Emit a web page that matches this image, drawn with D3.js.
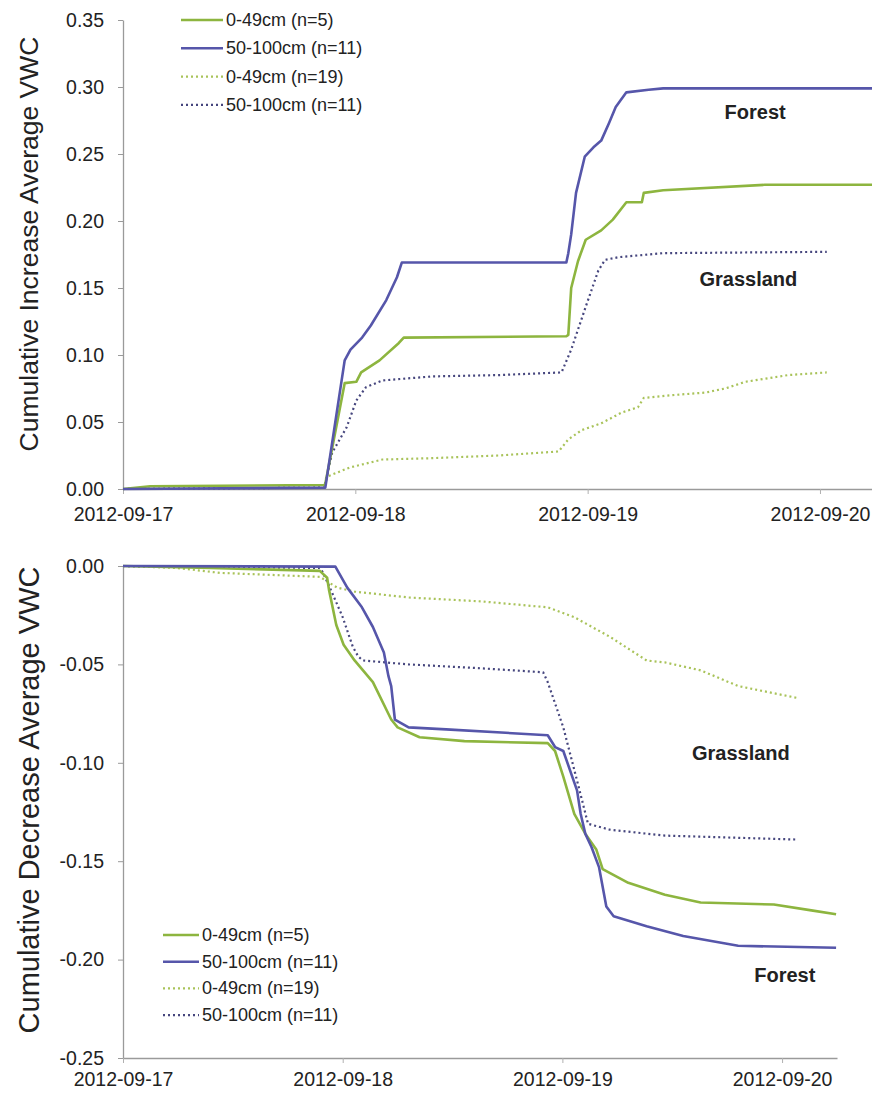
<html lang="en">
  <head>
    <meta charset="utf-8">
    <script src="https://d3js.org/d3.v7.min.js"></script>
    <style type="text/css">
body {
  margin: 0;
  background: white;
  font-family: "Liberation Sans", Arial, sans-serif;
}
svg text { fill: #222; }
    </style>
  </head>
  <body>
    <div id="chart"></div>
    <script type="text/javascript">
// hours since 2012-09-17 00:00
const incForestShallow = [[0, 0], [2.8, 0.002], [20.8, 0.003], [20.9, 0.004], [22.9, 0.079], [24.1, 0.080],
  [24.6, 0.087], [26.5, 0.096], [28.5, 0.109], [29.0, 0.113], [45.8, 0.114], [46.0, 0.115], [46.3, 0.150],
  [47.0, 0.170], [47.8, 0.186], [49.4, 0.193], [50.6, 0.201], [52.0, 0.214], [53.6, 0.214], [53.8, 0.221],
  [55.8, 0.223], [66.3, 0.227], [78.2, 0.227]];
const incForestDeep = [[0, 0], [20.9, 0.001], [22.9, 0.096], [23.5, 0.104], [24.7, 0.113], [25.6, 0.122],
  [27.2, 0.141], [28.3, 0.158], [28.8, 0.169], [45.8, 0.169], [46.0, 0.176], [46.3, 0.190], [46.8, 0.221],
  [47.7, 0.248], [48.6, 0.255], [49.4, 0.260], [50.2, 0.273], [50.9, 0.285], [52.0, 0.296], [54.3, 0.298],
  [55.8, 0.299], [78.2, 0.299]];
const incGrassShallow = [[0, 0], [20.8, 0.001], [21.0, 0.009], [23.4, 0.016], [26.8, 0.022], [31.9, 0.023],
  [38.8, 0.025], [45.0, 0.028], [46.0, 0.037], [47.4, 0.044], [49.4, 0.049], [51.5, 0.057], [53.2, 0.061],
  [53.8, 0.068], [56.7, 0.070], [60.2, 0.072], [62.2, 0.075], [64.3, 0.080], [68.7, 0.085], [72.7, 0.087]];
const incGrassDeep = [[0, 0], [20.8, 0.001], [21.0, 0.007], [21.6, 0.027], [23.1, 0.046], [24.1, 0.066],
  [25.1, 0.076], [26.8, 0.081], [31.9, 0.084], [38.8, 0.085], [45.3, 0.087], [46.3, 0.104], [47.8, 0.136],
  [49.1, 0.163], [49.8, 0.171], [51.2, 0.173], [55.8, 0.176], [72.7, 0.177]];

const decForestShallow = [[0, 0], [9.5, -0.001], [21.5, -0.0025], [22.3, -0.006], [22.5, -0.012], [23.3, -0.030],
  [24.1, -0.040], [25.3, -0.048], [27.3, -0.059], [29.3, -0.078], [30.0, -0.082], [32.4, -0.087], [37.3, -0.089],
  [46.4, -0.090], [47.2, -0.094], [48.1, -0.107], [49.3, -0.126], [50.5, -0.136], [51.7, -0.144], [52.4, -0.154],
  [55.2, -0.161], [59.2, -0.167], [63.1, -0.171], [71.1, -0.172], [75.2, -0.175], [77.9, -0.177]];
const decForestDeep = [[0, 0], [23.2, -0.0003], [24.5, -0.011], [26.1, -0.021], [27.3, -0.031], [28.5, -0.044],
  [29.0, -0.056], [29.3, -0.061], [29.7, -0.078], [31.2, -0.082], [35.3, -0.083], [46.4, -0.086], [47.2, -0.092],
  [48.1, -0.094], [49.6, -0.114], [50.0, -0.126], [50.5, -0.136], [51.2, -0.143], [52.0, -0.153], [52.8, -0.173],
  [53.6, -0.178], [57.2, -0.183], [61.2, -0.188], [67.2, -0.193], [77.9, -0.194]];
const decGrassShallow = [[0, 0], [5.9, -0.001], [10.6, -0.0035], [21.5, -0.0055], [23.4, -0.011], [25.3, -0.013],
  [31.2, -0.016], [39.2, -0.018], [46.4, -0.021], [49.3, -0.026], [53.2, -0.036], [57.2, -0.048], [59.2, -0.049],
  [63.1, -0.053], [67.2, -0.061], [73.6, -0.067]];
const decGrassDeep = [[0, 0], [21.5, -0.001], [21.8, -0.003], [22.6, -0.011], [24.0, -0.026], [25.1, -0.041],
  [25.7, -0.046], [26.2, -0.048], [31.2, -0.050], [39.2, -0.052], [45.9, -0.054], [46.4, -0.059], [48.1, -0.082],
  [49.6, -0.109], [50.8, -0.131], [53.2, -0.134], [59.2, -0.137], [73.6, -0.139]];

const legendLabels = ["0-49cm (n=5)", "50-100cm (n=11)", "0-49cm (n=19)", "50-100cm (n=11)"];
const dateTicks = ["2012-09-17", "2012-09-18", "2012-09-19", "2012-09-20"];
const incTicks = [0, 0.05, 0.10, 0.15, 0.20, 0.25, 0.30, 0.35];
const decTicks = [-0.25, -0.20, -0.15, -0.10, -0.05, 0];

const green = "#8db53f";
const blue = "#5656aa";
const greenDot = "#a9c35a";
const blueDot = "#46467e";
const styles = [
  {color: green, width: 2.6, dash: null},
  {color: blue, width: 2.6, dash: null},
  {color: greenDot, width: 2.2, dash: "2,3"},
  {color: blueDot, width: 2.2, dash: "2,3"}
];

const width = 872, height = 1094;
const t0 = new Date(2012, 8, 17);
const hour = h => new Date(t0.getTime() + h * 3600 * 1000);
const fmt = d3.formatLocale({decimal: ".", thousands: ",", grouping: [3], currency: ["", ""], minus: "-"}).format(".2f");
const parseDay = d3.timeParse("%Y-%m-%d");

const svg = d3.select("#chart").append("svg")
  .attr("width", width)
  .attr("height", height)
  .style("display", "block");

function panel(cfg) {
  const x = d3.scaleTime()
    .domain([t0, hour(cfg.hours)])
    .range([123, cfg.right]);
  const y = d3.scaleLinear()
    .domain(cfg.domain)
    .range([cfg.bottom, cfg.top]);

  const g = svg.append("g");

  // y axis
  g.append("g")
    .attr("transform", "translate(123,0)")
    .call(d3.axisLeft(y).tickValues(cfg.ticks).tickFormat(fmt).tickSize(5).tickPadding(14).tickSizeOuter(0))
    .call(a => a.select(".domain").attr("stroke", "#9a9a9a").attr("stroke-width", 1.3))
    .call(a => a.selectAll(".tick line").attr("stroke", "#9a9a9a"))
    .call(a => a.selectAll(".tick text").attr("font-size", 19.5).attr("font-family", "Liberation Sans").attr("fill", "#222"));

  // x axis at the lowest value
  g.append("g")
    .attr("transform", `translate(0,${y(cfg.domain[0])})`)
    .call(d3.axisBottom(x).tickValues(dateTicks.map(parseDay)).tickFormat(d3.timeFormat("%Y-%m-%d"))
      .tickSize(5).tickPadding(cfg.xPad).tickSizeOuter(0))
    .call(a => a.select(".domain").attr("stroke", "#9a9a9a").attr("stroke-width", 1.3))
    .call(a => a.selectAll(".tick line").attr("stroke", "#b0b0b0"))
    .call(a => a.selectAll(".tick text").attr("font-size", 19.5).attr("font-family", "Liberation Sans").attr("fill", "#222"));

  // y title
  g.append("text")
    .attr("transform", `translate(29,${cfg.titleY}) rotate(-90)`)
    .attr("text-anchor", "middle")
    .attr("dominant-baseline", "central")
    .attr("font-size", cfg.titleSize)
    .text(cfg.title);

  const line = d3.line()
    .x(d => x(hour(d[0])))
    .y(d => y(d[1]));

  // draw grassland first, forest on top
  [2, 3, 0, 1].forEach(i => {
    g.append("path")
      .datum(cfg.series[i])
      .attr("fill", "none")
      .attr("stroke", styles[i].color)
      .attr("stroke-width", styles[i].width)
      .attr("stroke-dasharray", styles[i].dash)
      .attr("stroke-linejoin", "round")
      .attr("d", line);
  });

  // labels
  cfg.notes.forEach(n => {
    g.append("text")
      .attr("x", x(hour(n.h)))
      .attr("y", y(n.v))
      .attr("text-anchor", "middle")
      .attr("dominant-baseline", "central")
      .attr("font-weight", "bold")
      .attr("font-size", 20)
      .text(n.text);
  });

  // legend
  const lg = g.append("g");
  legendLabels.forEach((label, i) => {
    const yy = cfg.legend.y + i * cfg.legend.step;
    lg.append("line")
      .attr("x1", cfg.legend.x)
      .attr("x2", cfg.legend.x + cfg.legend.len)
      .attr("y1", yy)
      .attr("y2", yy)
      .attr("stroke", styles[i].color)
      .attr("stroke-width", styles[i].width)
      .attr("stroke-dasharray", styles[i].dash);
    lg.append("text")
      .attr("x", cfg.legend.x + cfg.legend.len + 3)
      .attr("y", yy)
      .attr("dominant-baseline", "central")
      .attr("font-size", 18)
      .text(label);
  });
}

panel({
  hours: 78.2, right: 880, domain: [0, 0.35], top: 20, bottom: 489,
  ticks: incTicks, xPad: 13,
  title: "Cumulative Increase Average VWC", titleY: 244, titleSize: 26.5,
  series: [incForestShallow, incForestDeep, incGrassShallow, incGrassDeep],
  notes: [{text: "Forest", h: 65.3, v: 0.281}, {text: "Grassland", h: 64.6, v: 0.157}],
  legend: {x: 181, y: 20, step: 28.3, len: 42}
});

panel({
  hours: 78.0, right: 837, domain: [-0.25, 0], top: 566, bottom: 1058,
  ticks: decTicks, xPad: 9,
  title: "Cumulative Decrease Average VWC", titleY: 800, titleSize: 29,
  series: [decForestShallow, decForestDeep, decGrassShallow, decGrassDeep],
  notes: [{text: "Grassland", h: 67.5, v: -0.095}, {text: "Forest", h: 72.3, v: -0.208}],
  legend: {x: 163, y: 935, step: 26.7, len: 36}
});
    </script>
  </body>
</html>
